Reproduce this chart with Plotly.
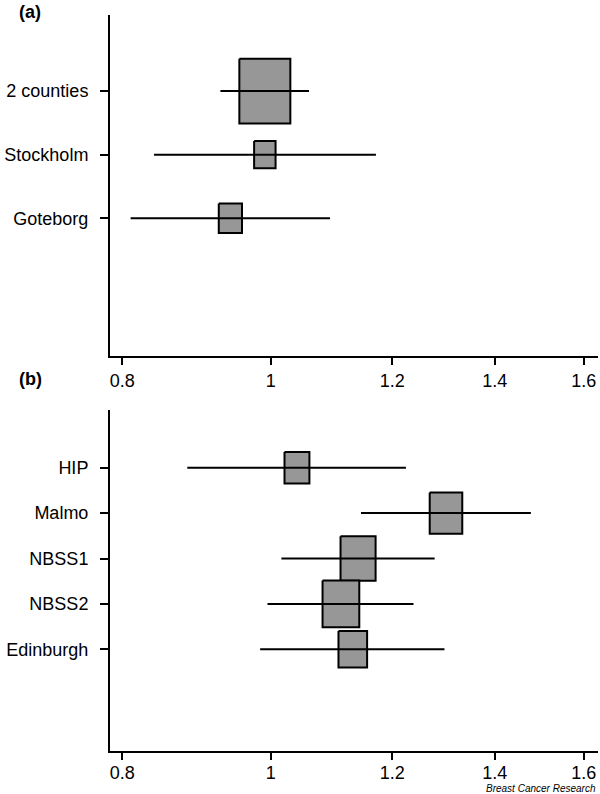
import math
import plotly.graph_objects as go

# ---- data ----
studies_a = ["2 counties", "Stockholm", "Goteborg"]
est_a = [0.991, 0.991, 0.941]
lo_a = [0.927, 0.839, 0.810]
hi_a = [1.059, 1.171, 1.093]
weight_a = [26.0, 4.6, 5.4]

studies_b = ["HIP", "Malmo", "NBSS1", "NBSS2", "Edinburgh"]
est_b = [1.040, 1.301, 1.140, 1.111, 1.131]
lo_b = [0.882, 1.145, 1.016, 0.995, 0.984]
hi_b = [1.225, 1.478, 1.279, 1.239, 1.298]
weight_b = [6.2, 10.6, 12.3, 13.5, 8.2]

x_ticks = [0.8, 1, 1.2, 1.4, 1.6]
x_tick_labels = ["0.8", "1", "1.2", "1.4", "1.6"]

# ---- layout constants ----
W, H = 600, 794
ML, MR, MT, MB = 110, 2, 15, 43
plot_w = W - ML - MR
plot_h = H - MT - MB
x_lo, x_hi = 0.7853, 1.6348
px_per_ln = plot_w / (math.log(x_hi) - math.log(x_lo))

dom_a = [(751 - 356) / plot_h, 1.0]
dom_b = [0.0, (751 - 410) / plot_h]
yr_a = [5.163, -0.194]
yr_b = [7.24, -0.271]

def px_per_y(dom, yr):
    return (dom[1] - dom[0]) * plot_h / abs(yr[0] - yr[1])

FONT = "Liberation Sans, Arial, Helvetica, sans-serif"
GRAY = "#979797"

fig = go.Figure()

def add_panel(names, est, lo, hi, wt, xa, ya, dom, yr):
    ppy = px_per_y(dom, yr)
    for i, (e, w) in enumerate(zip(est, wt)):
        yv = i + 1
        wpx = 10 * math.sqrt(w)
        hpx = 1.27 * wpx
        hw = wpx / 2 / px_per_ln
        hh = hpx / 2 / ppy
        x0, x1 = e * math.exp(-hw), e * math.exp(hw)
        fig.add_trace(go.Scatter(
            x=[x0, x1, x1, x0, x0], y=[yv - hh, yv - hh, yv + hh, yv + hh, yv - hh],
            mode="lines", fill="toself", fillcolor=GRAY,
            line=dict(color="black", width=2), xaxis=xa, yaxis=ya,
            showlegend=False, hoverinfo="skip"))
    for i, (l, h) in enumerate(zip(lo, hi)):
        yv = i + 1
        fig.add_trace(go.Scatter(
            x=[l, h], y=[yv, yv], mode="lines",
            line=dict(color="black", width=2), xaxis=xa, yaxis=ya,
            showlegend=False, hoverinfo="skip"))

add_panel(studies_a, est_a, lo_a, hi_a, weight_a, "x", "y", dom_a, yr_a)
add_panel(studies_b, est_b, lo_b, hi_b, weight_b, "x2", "y2", dom_b, yr_b)

xaxis_common = dict(
    type="log", range=[math.log10(x_lo), math.log10(x_hi)],
    tickvals=x_ticks, ticktext=x_tick_labels,
    ticks="outside", ticklen=7, tickwidth=1.5, tickcolor="black",
    showline=True, linecolor="black", linewidth=2, mirror=False,
    showgrid=False, zeroline=False, automargin=False,
    tickfont=dict(family=FONT, size=18, color="black"),
)
yaxis_common = dict(
    ticks="outside", ticklen=8, tickwidth=1.5, tickcolor="black",
    showline=True, linecolor="black", linewidth=2, mirror=False,
    showgrid=False, zeroline=False, ticklabelstandoff=8, automargin=False,
    tickfont=dict(family=FONT, size=18, color="black"),
)

panel_labels = ["(a)", "(b)"]

fig.update_layout(
    width=W, height=H,
    margin=dict(l=ML, r=MR, t=MT, b=MB),
    paper_bgcolor="white", plot_bgcolor="white",
    xaxis=dict(**xaxis_common, anchor="y", domain=[0, 1]),
    xaxis2=dict(**xaxis_common, anchor="y2", domain=[0, 1], ticklabelstandoff=-3),
    yaxis=dict(**yaxis_common, anchor="x", domain=dom_a, range=yr_a,
               tickvals=list(range(1, len(studies_a) + 1)), ticktext=studies_a),
    yaxis2=dict(**yaxis_common, anchor="x2", domain=dom_b, range=yr_b,
                tickvals=list(range(1, len(studies_b) + 1)), ticktext=studies_b),
    annotations=[
        dict(text="<b>%s</b>" % panel_labels[0], xref="paper", yref="paper",
             x=(30 - ML) / plot_w, y=(751 - 12) / plot_h,
             xanchor="center", yanchor="middle", showarrow=False,
             font=dict(family=FONT, size=18, color="black")),
        dict(text="<b>%s</b>" % panel_labels[1], xref="paper", yref="paper",
             x=(30 - ML) / plot_w, y=(751 - 379) / plot_h,
             xanchor="center", yanchor="middle", showarrow=False,
             font=dict(family=FONT, size=18, color="black")),
        dict(text="<i>Breast Cancer Research</i>", xref="paper", yref="paper", x=1.0,
             y=(751 - 788) / plot_h, xanchor="right", yanchor="middle", showarrow=False,
             font=dict(family=FONT, size=10, color="black")),
    ],
)

fig.write_html(
    "out.html",
    config={"displayModeBar": False},
    post_script="document.body.style.margin='0';document.body.style.overflow='hidden';",
)
